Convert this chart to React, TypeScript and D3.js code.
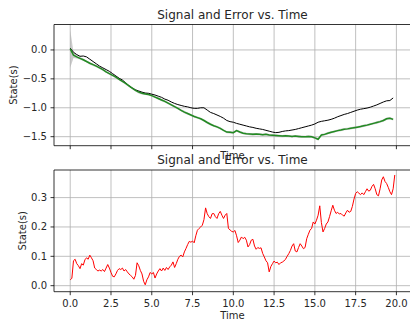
import React from 'react';
import * as d3 from 'd3';

// sample spacing of the two recordings
const topStep = 0.2;
const errStep = 0.1;

// true state (black), t = 0 .. 19.8 every 0.2
const signal = [
  0.03, -0.04, -0.08, -0.11, -0.105, -0.12, -0.16, -0.2, -0.24, -0.28,
  -0.31, -0.34, -0.37, -0.41, -0.45, -0.49, -0.52, -0.57, -0.62, -0.66,
  -0.69, -0.71, -0.73, -0.745, -0.75, -0.765, -0.78, -0.8, -0.82, -0.85,
  -0.87, -0.9, -0.925, -0.945, -0.96, -0.975, -0.985, -1.0, -1.01, -1.01,
  -1.0, -1.0, -1.04, -1.08, -1.1, -1.125, -1.15, -1.18, -1.22, -1.24,
  -1.25, -1.27, -1.285, -1.3, -1.315, -1.33, -1.34, -1.355, -1.365, -1.375,
  -1.39, -1.405, -1.42, -1.43, -1.425, -1.41, -1.4, -1.395, -1.385, -1.375,
  -1.36, -1.345, -1.33, -1.315, -1.3, -1.28, -1.25, -1.235, -1.225, -1.215,
  -1.2, -1.18, -1.155, -1.135, -1.115, -1.1, -1.08, -1.06, -1.04, -1.025,
  -1.015, -1.005, -0.99, -0.97, -0.95, -0.925, -0.9, -0.88, -0.875, -0.83,
];

// estimate (green)
const estimate = [
  0.02, -0.09, -0.12, -0.145, -0.17, -0.2, -0.23, -0.255, -0.28, -0.31,
  -0.34, -0.38, -0.41, -0.44, -0.47, -0.51, -0.545, -0.58, -0.62, -0.66,
  -0.7, -0.73, -0.75, -0.76, -0.77, -0.79, -0.815, -0.84, -0.865, -0.89,
  -0.92, -0.95, -0.98, -1.01, -1.045, -1.075, -1.1, -1.125, -1.15, -1.17,
  -1.19, -1.22, -1.255, -1.285, -1.31, -1.33, -1.355, -1.39, -1.42, -1.425,
  -1.43, -1.395, -1.42, -1.44, -1.45, -1.455, -1.46, -1.455, -1.46, -1.465,
  -1.46, -1.47, -1.475, -1.48, -1.485, -1.49, -1.485, -1.49, -1.495, -1.49,
  -1.495, -1.5, -1.5, -1.495, -1.5, -1.52, -1.545, -1.47, -1.46, -1.44,
  -1.425, -1.41, -1.395, -1.385, -1.37, -1.365, -1.355, -1.345, -1.335, -1.325,
  -1.31, -1.3, -1.285, -1.27, -1.255, -1.24, -1.22, -1.19, -1.18, -1.2,
];

// spread around the estimate (grey band half width)
const spread = [
  0.33, 0.05, 0.03, 0.02, 0.02, 0.018, 0.02, 0.022, 0.018, 0.02,
  0.02, 0.018, 0.02, 0.02, 0.022, 0.02, 0.018, 0.02, 0.02, 0.018,
  0.02, 0.022, 0.02, 0.018, 0.02, 0.02, 0.018, 0.02, 0.022, 0.02,
  0.018, 0.02, 0.02, 0.018, 0.02, 0.022, 0.02, 0.018, 0.02, 0.02,
  0.018, 0.02, 0.022, 0.02, 0.018, 0.02, 0.02, 0.018, 0.02, 0.022,
  0.02, 0.018, 0.02, 0.02, 0.018, 0.02, 0.022, 0.02, 0.018, 0.02,
  0.02, 0.018, 0.02, 0.022, 0.02, 0.018, 0.02, 0.02, 0.018, 0.02,
  0.022, 0.02, 0.018, 0.02, 0.02, 0.018, 0.022, 0.02, 0.018, 0.02,
  0.02, 0.018, 0.02, 0.022, 0.02, 0.018, 0.02, 0.02, 0.018, 0.02,
  0.022, 0.02, 0.018, 0.02, 0.02, 0.018, 0.02, 0.022, 0.02, 0.02,
];

// absolute error (red), t = 0 .. 19.9 every 0.1
const error = [
  0.02, 0.025, 0.085, 0.09, 0.075, 0.068, 0.058, 0.075, 0.07, 0.088,
  0.095, 0.09, 0.104, 0.095, 0.085, 0.06, 0.055, 0.05, 0.053, 0.05,
  0.055, 0.048, 0.06, 0.072, 0.06, 0.045, 0.032, 0.03, 0.04, 0.052,
  0.058, 0.055, 0.06, 0.05, 0.055, 0.047, 0.04, 0.035, 0.03, 0.022,
  0.035, 0.078, 0.068, 0.052, 0.04, 0.015, 0.003, 0.02, 0.03, 0.045,
  0.04, 0.045, 0.026, 0.04, 0.05, 0.058, 0.05, 0.06, 0.052, 0.062,
  0.055, 0.064, 0.07, 0.081, 0.062, 0.075, 0.09, 0.1, 0.104, 0.098,
  0.115, 0.127, 0.14, 0.151, 0.148, 0.152, 0.146, 0.17, 0.189, 0.195,
  0.2, 0.206, 0.225, 0.265, 0.245, 0.235, 0.229, 0.245, 0.246, 0.235,
  0.229, 0.245, 0.253, 0.24, 0.229, 0.24, 0.246, 0.195, 0.19, 0.185,
  0.183, 0.188, 0.17, 0.147, 0.155, 0.166, 0.16, 0.165, 0.155, 0.132,
  0.14, 0.155, 0.158, 0.135, 0.124, 0.13, 0.127, 0.129, 0.11, 0.098,
  0.085, 0.078, 0.047, 0.065, 0.075, 0.084, 0.078, 0.08, 0.072, 0.078,
  0.08, 0.084, 0.09, 0.1, 0.109, 0.12, 0.135, 0.143, 0.118, 0.115,
  0.13, 0.143, 0.135, 0.126, 0.13, 0.16, 0.175, 0.189, 0.195, 0.217,
  0.21, 0.223, 0.24, 0.272, 0.215, 0.183, 0.195, 0.21, 0.217, 0.235,
  0.255, 0.274, 0.257, 0.246, 0.25, 0.244, 0.246, 0.24, 0.237, 0.248,
  0.257, 0.25, 0.253, 0.27, 0.295, 0.314, 0.32, 0.315, 0.31, 0.316,
  0.31, 0.32, 0.33, 0.322, 0.325, 0.338, 0.345, 0.33, 0.31, 0.306,
  0.33, 0.36, 0.371, 0.355, 0.348, 0.335, 0.32, 0.31, 0.33, 0.377,
];

const xTicks = [0, 2.5, 5, 7.5, 10, 12.5, 15, 17.5, 20];
const topYTicks = [0, -0.5, -1, -1.5];
const bottomYTicks = [0, 0.1, 0.2, 0.3];

const W = 410;
const H = 321;
const left = 54;
const right = 411;
const fmt = d3.format('.1f');
const font = 'DejaVu Sans, sans-serif';

const x = d3.scaleLinear().domain([-0.995, 20.895]).range([left, right]);

const Panel: React.FC<{
  top: number;
  bottom: number;
  domain: [number, number];
  yTicks: number[];
  showXLabels: boolean;
  labelX: number;
  id: string;
  children: (y: d3.ScaleLinear<number, number>) => React.ReactNode;
}> = ({ top, bottom, domain, yTicks, showXLabels, labelX, id, children }) => {
  const y = d3.scaleLinear().domain(domain).range([bottom, top]);
  return (
    <g>
      <defs>
        <clipPath id={id}>
          <rect x={left} y={top} width={right - left} height={bottom - top} />
        </clipPath>
      </defs>
      {xTicks.map((t) => (
        <line key={'gx' + t} x1={x(t)} x2={x(t)} y1={top} y2={bottom} stroke="#b0b0b0" strokeWidth={0.8} />
      ))}
      {yTicks.map((t) => (
        <line key={'gy' + t} x1={left} x2={right} y1={y(t)} y2={y(t)} stroke="#b0b0b0" strokeWidth={0.8} />
      ))}
      <g clipPath={`url(#${id})`}>{children(y)}</g>
      <line x1={left} x2={left} y1={top} y2={bottom} stroke="#000" strokeWidth={0.8} />
      <line x1={left} x2={right} y1={top} y2={top} stroke="#000" strokeWidth={0.8} />
      <line x1={left} x2={right} y1={bottom} y2={bottom} stroke="#000" strokeWidth={0.8} />
      {xTicks.map((t) => (
        <g key={'tx' + t}>
          <line x1={x(t)} x2={x(t)} y1={bottom} y2={bottom + 3.5} stroke="#000" strokeWidth={0.8} />
          {showXLabels && (
            <text x={x(t)} y={bottom + 15} textAnchor="middle" fontSize={10} fill="#262626">
              {fmt(t)}
            </text>
          )}
        </g>
      ))}
      {yTicks.map((t) => (
        <g key={'ty' + t}>
          <line x1={left - 3.5} x2={left} y1={y(t)} y2={y(t)} stroke="#000" strokeWidth={0.8} />
          <text x={left - 7} y={y(t) + 3.5} textAnchor="end" fontSize={10} fill="#262626">
            {fmt(t)}
          </text>
        </g>
      ))}
      <text
        transform={`translate(${labelX},${(top + bottom) / 2}) rotate(-90)`}
        textAnchor="middle"
        dy="0.35em"
        fontSize={10}
        fill="#262626"
      >
        State(s)
      </text>
      <text x={(left + right) / 2} y={top - 6} textAnchor="middle" fontSize={12} fill="#262626">
        Signal and Error vs. Time
      </text>
    </g>
  );
};

const App: React.FC = () => {
  const topTime = signal.map((_, i) => i * topStep);
  const errTime = error.map((_, i) => i * errStep);

  return (
    <svg
      width={W}
      height={H}
      style={{ position: 'absolute', left: 0, top: 0, background: '#fff' }}
      fontFamily={font}
    >
      <rect width={W} height={H} fill="#fff" />
      <Panel
        id="clipTop"
        top={24.5}
        bottom={145.7}
        domain={[-1.656, 0.44]}
        yTicks={topYTicks}
        showXLabels={false}
        labelX={13.5}
      >
        {(y) => {
          const band = d3
            .area<number>()
            .x((_, i) => x(topTime[i]))
            .y0((d, i) => y(d - spread[i]))
            .y1((d, i) => y(d + spread[i]));
          const line = d3
            .line<number>()
            .x((_, i) => x(topTime[i]))
            .y((d) => y(d));
          return (
            <>
              <path d={band(estimate) ?? ''} fill="#a0a0a0" fillOpacity={0.55} />
              <path d={line(signal) ?? ''} fill="none" stroke="#000" strokeWidth={1} />
              <path d={line(estimate) ?? ''} fill="none" stroke="#228b22" strokeWidth={1.5} />
            </>
          );
        }}
      </Panel>
      <text x={(left + right) / 2} y={159} textAnchor="middle" fontSize={10} fill="#262626">
        Time
      </text>
      <Panel
        id="clipBottom"
        top={170}
        bottom={291.7}
        domain={[-0.0205, 0.394]}
        yTicks={bottomYTicks}
        showXLabels={true}
        labelX={22}
      >
        {(y) => {
          const line = d3
            .line<number>()
            .x((_, i) => x(errTime[i]))
            .y((d) => y(d));
          return <path d={line(error) ?? ''} fill="none" stroke="#ff0000" strokeWidth={1} />;
        }}
      </Panel>
      <text x={(left + right) / 2} y={319} textAnchor="middle" fontSize={10} fill="#262626">
        Time
      </text>
    </svg>
  );
};

export default App;
